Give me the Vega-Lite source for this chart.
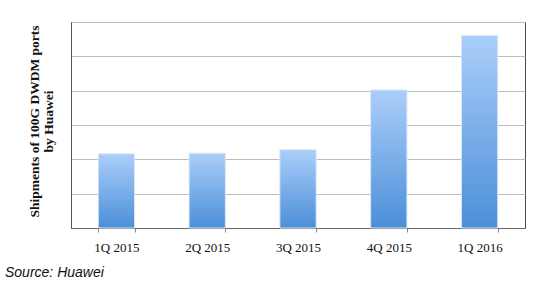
{
  "$schema": "https://vega.github.io/schema/vega-lite/v6.json",
  "width": 454,
  "height": 206,
  "autosize": {"type": "none"},
  "padding": {"left": 71, "top": 22, "right": 22, "bottom": 55},
  "background": "white",
  "data": {
    "values": [
      {"quarter": "1Q 2015", "ports": 2.16},
      {"quarter": "2Q 2015", "ports": 2.18},
      {"quarter": "3Q 2015", "ports": 2.28},
      {"quarter": "4Q 2015", "ports": 4.02},
      {"quarter": "1Q 2016", "ports": 5.61}
    ]
  },
  "title": {
    "text": "Source: Huawei",
    "orient": "bottom",
    "anchor": "start",
    "frame": "group",
    "dx": -66,
    "offset": 12,
    "font": "Liberation Sans",
    "fontStyle": "italic",
    "fontWeight": "normal",
    "fontSize": 14,
    "color": "#111111"
  },
  "mark": {
    "type": "bar",
    "stroke": "#dbe8f8",
    "strokeWidth": 1,
    "color": {
      "gradient": "linear",
      "x1": 0, "y1": 0, "x2": 0, "y2": 1,
      "stops": [
        {"offset": 0, "color": "#abcefa"},
        {"offset": 1, "color": "#4b8fd8"}
      ]
    }
  },
  "encoding": {
    "x": {
      "field": "quarter",
      "type": "nominal",
      "sort": null,
      "scale": {"paddingInner": 0.6, "paddingOuter": 0.3},
      "axis": {
        "title": null,
        "labelAngle": 0,
        "labelFont": "Liberation Serif",
        "labelFontSize": 13,
        "labelColor": "#111111",
        "labelPadding": 9,
        "tickBand": "extent",
        "tickColor": "#888888",
        "tickSize": 4,
        "domainColor": "#666666",
        "grid": false
      }
    },
    "y": {
      "field": "ports",
      "type": "quantitative",
      "scale": {"domain": [0, 6], "nice": false},
      "axis": {
        "title": ["Shipments of 100G DWDM ports", "by Huawei"],
        "titleFont": "Liberation Serif",
        "titleFontWeight": "bold",
        "titleFontSize": 13.5,
        "titleColor": "#111111",
        "titlePadding": 16,
        "titleLineHeight": 14,
        "titleY": 99,
        "labels": false,
        "ticks": false,
        "values": [0, 1, 2, 3, 4, 5, 6],
        "grid": true,
        "gridColor": "#bdbdbd",
        "gridWidth": 1,
        "domainColor": "#555555"
      }
    }
  },
  "config": {
    "view": {"stroke": "#444444", "strokeWidth": 1}
  }
}
